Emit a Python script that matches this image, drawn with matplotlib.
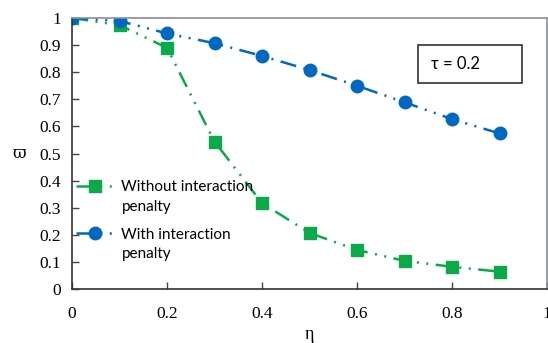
import matplotlib
matplotlib.use("Agg")
import matplotlib.pyplot as plt
from matplotlib.patches import Rectangle
from matplotlib.legend_handler import HandlerLine2D

eta = [0, 0.1, 0.2, 0.3, 0.4, 0.5, 0.6, 0.7, 0.8, 0.9]
without_penalty = [1.0, 0.974, 0.89, 0.544, 0.317, 0.207, 0.144, 0.104, 0.082, 0.064]
with_penalty = [1.0, 0.989, 0.943, 0.907, 0.86, 0.808, 0.75, 0.689, 0.627, 0.574]
xticks = [0, 0.2, 0.4, 0.6, 0.8, 1]
yticks = [0, 0.1, 0.2, 0.3, 0.4, 0.5, 0.6, 0.7, 0.8, 0.9, 1]

green = '#0BA94A'
blue = '#0068C0'
dash = (6.5, 3, 0.8, 3, 0.8, 3)


class RaisedLine(HandlerLine2D):
    # put the legend handle level with the first text line
    def create_artists(self, *args, **kwargs):
        arts = super().create_artists(*args, **kwargs)
        for a in arts:
            a.set_ydata([y + 8 for y in a.get_ydata()])
        return arts


fig = plt.figure(figsize=(5.48, 3.43), dpi=100)
ax = fig.add_axes([72/548, 54/343, 475/548, 271/343])

ax.plot(eta, without_penalty, color=green, lw=1.8, dashes=dash,
        marker='s', ms=8.5, label='Without interaction\npenalty')
ax.plot(eta, with_penalty, color=blue, lw=1.8, dashes=dash,
        marker='o', ms=9, label='With interaction\npenalty')

ax.set_xlim(0, 1)
ax.set_ylim(0, 1)
ax.set_xticks(xticks)
ax.set_yticks(yticks)
ax.set_xticklabels([f'{v:g}' for v in xticks], family='Liberation Serif', fontsize=12.5)
ax.set_yticklabels([f'{v:g}' for v in yticks], family='Liberation Serif', fontsize=12.5)
ax.tick_params(direction='in', length=5, width=1, color='#444444')
ax.tick_params(axis='x', pad=12)
ax.tick_params(axis='y', pad=8)

for s in ['left', 'bottom']:
    ax.spines[s].set_color('#333333')
    ax.spines[s].set_linewidth(1.2)
for s in ['top', 'right']:
    ax.spines[s].set_color('#8a8f96')
    ax.spines[s].set_linewidth(1.2)

ax.set_xlabel('η', family='Liberation Serif', fontsize=13, labelpad=3)
ax.set_ylabel('ϖ', family='DejaVu Serif', fontsize=12, rotation=0, labelpad=14, va='center')

ax.add_patch(Rectangle((0.728, 0.76), 0.219, 0.14, transform=ax.transAxes,
                       fc='white', ec='#333333', lw=1.2, zorder=5))
ax.text(0.756, 0.83, 'τ = 0.2', transform=ax.transAxes, family='Lato', fontsize=12,
        ha='left', va='center', zorder=6)

leg = ax.legend(loc='upper left', bbox_to_anchor=(-0.015, 0.44), frameon=False,
                prop={'family': 'Lato', 'size': 11}, handlelength=2.5,
                handletextpad=0.5, labelspacing=0.9, borderaxespad=0.3,
                handler_map={plt.Line2D: RaisedLine()})
for t in leg.get_texts():
    t.set_linespacing(1.5)

fig.savefig('out.png', dpi=100)
